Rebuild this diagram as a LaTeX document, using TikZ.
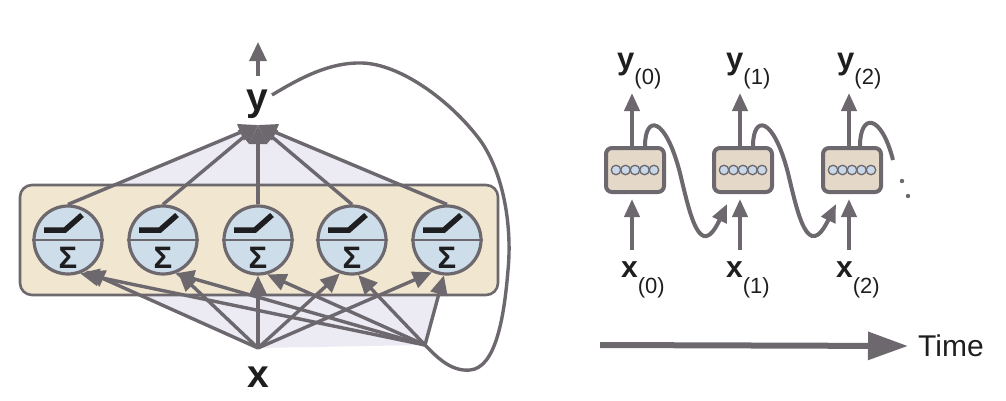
\documentclass[tikz,border=0pt]{standalone}
\usepackage{fontspec}
\setmainfont{Liberation Sans}
\usetikzlibrary{arrows.meta}
\definecolor{ln}{RGB}{108,104,110}
\definecolor{lav}{RGB}{236,235,243}
\definecolor{beige}{RGB}{241,230,208}
\definecolor{neu}{RGB}{206,221,234}
\definecolor{boxc}{RGB}{228,216,200}
\definecolor{dotc}{RGB}{200,216,232}
\definecolor{ink}{RGB}{30,30,32}
\pgfdeclarelayer{bg}\pgfdeclarelayer{mid}\pgfsetlayers{bg,mid,main}
\newcommand\rnnlab[2]{{\fontsize{#1}{#1}\selectfont\bfseries #2}}
\begin{document}
\begin{tikzpicture}[x=1pt,y=-1pt,
  conn/.style={draw=ln, line width=3.4pt},
  tipa/.style={-{Triangle[length=19pt,width=17pt]}},
  neuron/.style={circle, draw=ln, line width=3.2pt, fill=neu, minimum size=68pt, inner sep=0pt},
  panel/.style={rectangle, rounded corners=12pt, draw=ln, line width=2.6pt, fill=beige, minimum width=478pt, minimum height=110pt},
  relu/.style={draw=ink, line width=5.5pt},
  sig/.style={inner sep=0pt, font=\fontsize{31}{31}\selectfont\bfseries, text=ink},
  biglbl/.style={inner sep=0pt, anchor=base, font=\fontsize{39}{39}\selectfont\bfseries, text=ink},
  rbox/.style={rectangle, rounded corners=6pt, draw=ln, line width=4pt, fill=boxc, minimum width=58pt, minimum height=44pt},
  sdot/.style={circle, draw=ln, line width=1.3pt, fill=dotc, minimum size=9.5pt, inner sep=0pt},
  rconn/.style={draw=ln, line width=4pt},
  tipr/.style={-{Triangle[length=18pt,width=15pt]}},
  sublbl/.style={inner sep=0pt, anchor=base west, text=ink}
]
\useasboundingbox (0,0) rectangle (1006,400);

% ---------- left: recurrent layer ----------
\foreach \i/\x in {1/68,2/163,3/258,4/352,5/447} {\node[neuron] (n\i) at (\x,240) {};}
\coordinate (yin) at (258,125);
\coordinate (xs) at (258,348);
\coordinate (lp) at (425,345);
\coordinate (ls) at (272,95);
\coordinate (ytop) at (258,42);
\coordinate (ybot) at (258,76);
\node[biglbl] (ylab) at (257,110) {y};
\node[biglbl] (xlab) at (258,387) {x};

\begin{pgfonlayer}{bg}
\fill[lav] (yin) -- (n1.north) -- (n5.north) -- cycle;
\fill[lav] (n1.300) -- (xs) -- (lp) -- (n5.265) -- cycle;
\end{pgfonlayer}
\begin{pgfonlayer}{mid}
\node[panel] (panel) at (259,240) {};
\end{pgfonlayer}

\foreach \i in {1,...,5} {
  \draw[draw=ln, line width=2.6pt] (n\i.west) -- (n\i.east);
  \draw[relu] (n\i) ++(-24,-10) -- ++(21,0) -- ++(17,-15);
  \path (n\i) ++(0,18) node[sig] (s\i) {Σ};
}

% outputs to y
\foreach \i in {1,...,5} {\draw[conn,tipa] (n\i.north) -- (yin);}
\draw[conn,tipa] (ybot) -- (ytop);

% inputs from x
\draw[conn,tipa] (xs) -- (n1.300);
\draw[conn,tipa] (xs) -- (n2.295);
\draw[conn,tipa] (xs) -- (n3.270);
\draw[conn,tipa] (xs) -- (n4.250);
\draw[conn,tipa] (xs) -- (n5.245);

% recurrent loop
\draw[conn] (ls) .. controls (300,78) and (330,62) .. (362,63)
  .. controls (400,64) and (450,100) .. (480,140)
  .. controls (505,175) and (512,230) .. (508,270)
  .. controls (504,320) and (495,368) .. (470,370)
  .. controls (450,372) and (435,355) .. (lp);
\draw[conn,tipa] (lp) -- (n1.290);
\draw[conn,tipa] (lp) -- (n2.290);
\draw[conn,tipa] (lp) -- (n3.285);
\draw[conn,tipa] (lp) -- (n4.280);
\draw[conn,tipa] (lp) -- (n5.265);

% ---------- right: unrolled through time ----------
\foreach \i/\x in {0/635,1/743,2/852} {
  \node[rbox] (b\i) at (\x,170) {};
  \foreach \j/\d in {1/-19,2/-9.5,3/0,4/9.5,5/19} {\node[sdot] (c\i\j) at ([xshift=\d pt]b\i.center) {};}
  \coordinate (yt\i) at (\x-3,93);
  \coordinate (xb\i) at (\x-3,250);
  \draw[rconn,tipr] ([xshift=-3pt]b\i.north) -- (yt\i);
  \draw[rconn,tipr,shorten >=5pt] (xb\i) -- ([xshift=-3pt]b\i.south);
}
\node[sublbl] (ylab0) at (617,69) {\rnnlab{31}{y}\raisebox{-15pt}{\fontsize{22}{22}\selectfont(0)}};
\node[sublbl] (ylab1) at (726,69) {\rnnlab{31}{y}\raisebox{-15pt}{\fontsize{22}{22}\selectfont(1)}};
\node[sublbl] (ylab2) at (837,69) {\rnnlab{31}{y}\raisebox{-15pt}{\fontsize{22}{22}\selectfont(2)}};
\node[sublbl] (xlab0) at (621,277) {\rnnlab{30}{x}\raisebox{-16pt}{\fontsize{22}{22}\selectfont(0)}};
\node[sublbl] (xlab1) at (726,277) {\rnnlab{30}{x}\raisebox{-16pt}{\fontsize{22}{22}\selectfont(1)}};
\node[sublbl] (xlab2) at (836,277) {\rnnlab{30}{x}\raisebox{-16pt}{\fontsize{22}{22}\selectfont(2)}};

\foreach \i/\j/\o in {0/1/0,1/2/108} {
  \draw[rconn,tipr] ([xshift=10pt]b\i.north) .. controls (645+\o,115) and (665+\o,115) .. (680+\o,173)
    .. controls (690+\o,215) and (700+\o,262) .. ([xshift=-16pt,yshift=-10pt]b\j.south);
}
\coordinate (rend) at (893,160);
\draw[rconn] ([xshift=8pt]b2.north) .. controls (860,113) and (881,113) .. (rend);
\fill[ln] (902,181) circle (2.2pt);
\fill[ln] (908,196) circle (2.2pt);

% time axis
\coordinate (t0) at (600,345);
\node[inner sep=0pt, anchor=west, font=\fontsize{30}{30}\selectfont, text=ink] (time) at (918,346) {Time};
\draw[draw=ln, line width=6pt, -{Triangle[length=40pt,width=27pt]}] (t0) -- ([xshift=-10pt]time.west);
\end{tikzpicture}
\end{document}
